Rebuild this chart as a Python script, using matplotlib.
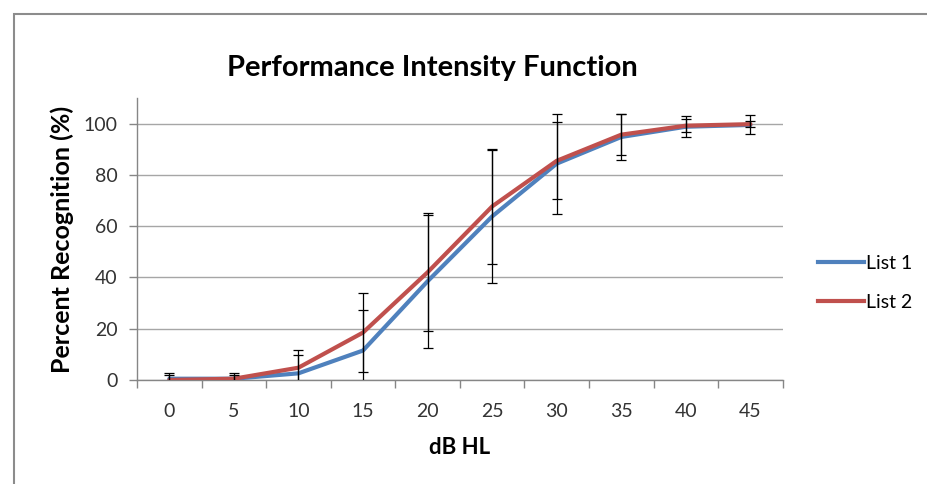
import matplotlib
matplotlib.use("Agg")
import matplotlib.pyplot as plt
from matplotlib.patches import Rectangle
from matplotlib.lines import Line2D
import numpy as np

# Data
db_levels = [0, 5, 10, 15, 20, 25, 30, 35, 40, 45]
list1 = [0.5, 0.5, 2.6, 11.5, 38.5, 63.8, 84.4, 94.8, 98.8, 99.5]
list2 = [0.0, 0.5, 4.8, 18.5, 42.0, 67.7, 85.5, 95.7, 99.2, 99.8]
err1 = [2.3, 2.1, 7.0, 16.0, 26.0, 26.0, 19.5, 9.0, 4.0, 3.7]
err2 = [1.8, 1.3, 7.0, 15.3, 23.0, 22.5, 15.0, 8.0, 2.5, 1.1]
y_ticks = [0, 20, 40, 60, 80, 100]

FONT = ["Lato", "DejaVu Sans"]
plt.rcParams['font.family'] = FONT

W, H = 927, 484
fig = plt.figure(figsize=(W / 100, H / 100), dpi=100)
fig.patch.set_facecolor("white")

# outer chart border
fig.patches.append(Rectangle((14 / W, -0.1), 1.2, (H - 14) / H + 0.1,
                             transform=fig.transFigure, fill=False,
                             edgecolor="#8c8c8c", linewidth=1.5))

left, right = 137 / W, 782.7 / W
bottom, top = 1 - 380 / H, 1 - 98 / H
ax = fig.add_axes([left, bottom, right - left, top - bottom])

idx = np.arange(len(db_levels))
blue = "#4F81BD"
red = "#C0504D"

ax.plot(idx, list1, color=blue, lw=3.0, zorder=3, solid_capstyle="round", label="List 1")
ax.plot(idx, list2, color=red, lw=3.0, zorder=3, solid_capstyle="round", label="List 2")
ax.errorbar(idx, list1, yerr=err1, fmt="none", ecolor="black", elinewidth=0.9,
            capsize=3.6, capthick=0.9, zorder=4)
ax.errorbar(idx, list2, yerr=err2, fmt="none", ecolor="black", elinewidth=0.9,
            capsize=3.6, capthick=0.9, zorder=4)

ax.set_xlim(-0.5, len(db_levels) - 0.5)
ax.set_ylim(0, 110)

ax.set_yticks(y_ticks)
ax.yaxis.grid(True, color="#a6a6a6", lw=1.0)
ax.set_axisbelow(True)

ax.set_xticks(np.arange(-0.5, len(db_levels), 1.0))
ax.set_xticklabels([])
ax.set_xticks(idx, minor=True)
ax.set_xticklabels([str(v) for v in db_levels], minor=True)
ax.tick_params(axis="x", which="major", length=6, width=1, color="#868686", direction="out")
ax.tick_params(axis="x", which="minor", length=0, pad=23, labelsize=14, labelcolor="#333333")
ax.tick_params(axis="y", length=6, width=1, color="#868686", direction="out",
               labelsize=14, labelcolor="#333333", pad=8)
for lbl in ax.get_xticklabels(minor=True):
    lbl.set_va("center")

for s in ["top", "right"]:
    ax.spines[s].set_visible(False)
for s in ["left", "bottom"]:
    ax.spines[s].set_color("#868686")
    ax.spines[s].set_linewidth(1.0)

fig.text(432 / W, 1 - 68 / H, "Performance Intensity Function", ha="center", va="center",
         fontsize=21, fontweight="bold", color="black")
fig.text(62 / W, 1 - 239 / H, "Percent Recognition (%)", ha="center", va="center",
         rotation=90, fontsize=18, fontweight="bold", color="black")
fig.text(460 / W, 1 - 447 / H, "dB HL", ha="center", va="center",
         fontsize=16, fontweight="bold", color="black")

handles = [Line2D([], [], color=blue, lw=3.0), Line2D([], [], color=red, lw=3.0)]
fig.legend(handles, ["List 1", "List 2"], loc="center left",
           bbox_to_anchor=(800 / W, 1 - 283 / H), frameon=False, fontsize=14,
           handlelength=2.4, handletextpad=0.1, labelspacing=1.15)

fig.savefig("out.png", dpi=100)
